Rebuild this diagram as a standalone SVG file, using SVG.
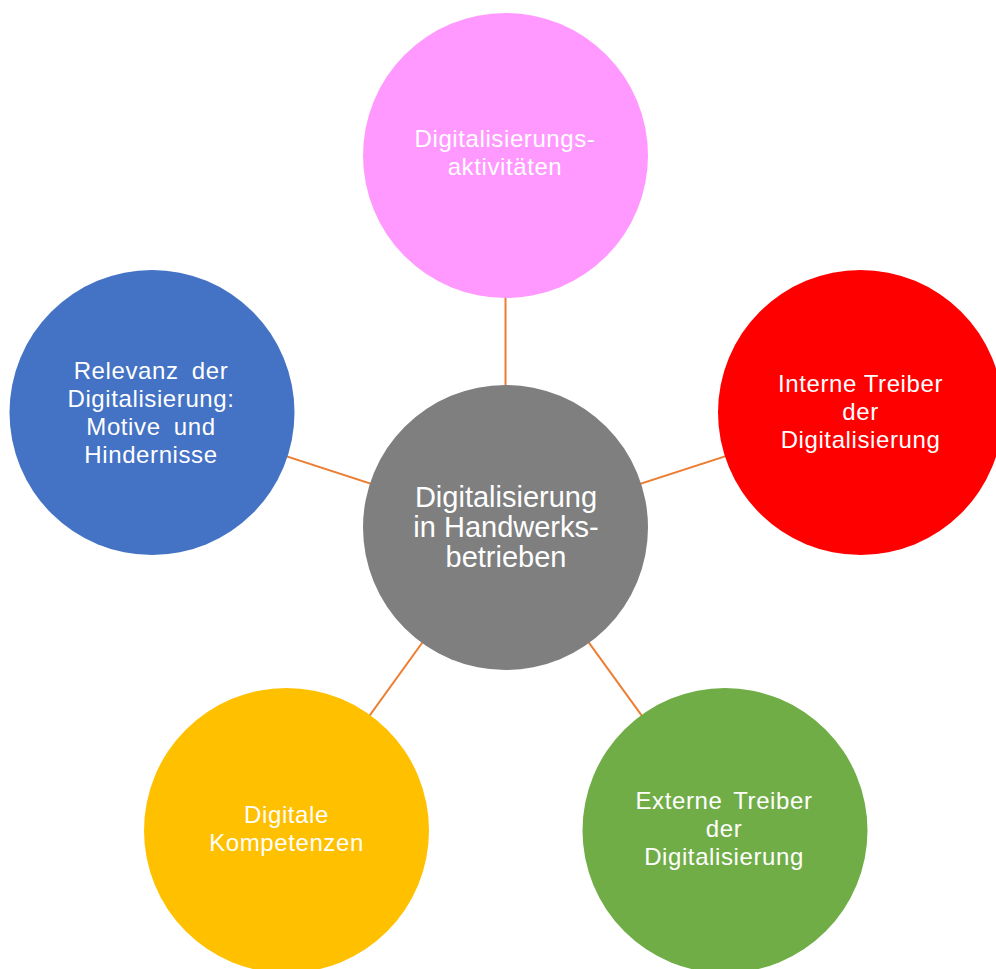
<svg xmlns="http://www.w3.org/2000/svg" width="996" height="969" viewBox="0 0 996 969">
<style>
.t{font-family:"Liberation Sans",Arial,sans-serif;font-size:24px;fill:#ffffff;text-anchor:middle;letter-spacing:0.6px}
.c{font-size:29px;letter-spacing:0}
.ln{stroke:#ED7D31;stroke-width:2;fill:none}
</style>
<rect width="996" height="969" fill="#ffffff"/>
<g id="connectors">
<line class="ln" x1="505.5" y1="527.5" x2="505.5" y2="155.5"/>
<line class="ln" x1="505.5" y1="527.5" x2="860.5" y2="412.5"/>
<line class="ln" x1="505.5" y1="527.5" x2="152" y2="412.5"/>
<line class="ln" x1="505.5" y1="527.5" x2="286.5" y2="830.5"/>
<line class="ln" x1="505.5" y1="527.5" x2="725" y2="830.5"/>
</g>
<g id="node-top">
<circle cx="505.5" cy="155.5" r="142.5" fill="#FF99FF"/>
<text class="t" x="505" y="147">Digitalisierungs-</text>
<text class="t" x="505" y="175">aktivitäten</text>
</g>
<g id="node-center">
<circle cx="505.5" cy="527.5" r="142.5" fill="#7F7F7F"/>
<text class="t c" x="506" y="507">Digitalisierung</text>
<text class="t c" x="506" y="537">in Handwerks-</text>
<text class="t c" x="506" y="567">betrieben</text>
</g>
<g id="node-right">
<circle cx="860.5" cy="412.5" r="142.5" fill="#FF0000"/>
<text class="t" x="860.5" y="392">Interne Treiber</text>
<text class="t" x="860.5" y="420">der</text>
<text class="t" x="860.5" y="448">Digitalisierung</text>
</g>
<g id="node-left">
<circle cx="152" cy="412.5" r="142.5" fill="#4472C4"/>
<text class="t" x="151" y="379" word-spacing="6">Relevanz der</text>
<text class="t" x="151" y="407">Digitalisierung:</text>
<text class="t" x="151" y="435" word-spacing="6">Motive und</text>
<text class="t" x="151" y="463">Hindernisse</text>
</g>
<g id="node-bottom-left">
<circle cx="286.5" cy="830.5" r="142.5" fill="#FFC000"/>
<text class="t" x="286.5" y="823">Digitale</text>
<text class="t" x="286.5" y="851">Kompetenzen</text>
</g>
<g id="node-bottom-right">
<circle cx="725" cy="830.5" r="142.5" fill="#70AD47"/>
<text class="t" x="724" y="809" word-spacing="4">Externe Treiber</text>
<text class="t" x="724" y="837">der</text>
<text class="t" x="724" y="865">Digitalisierung</text>
</g>
</svg>
